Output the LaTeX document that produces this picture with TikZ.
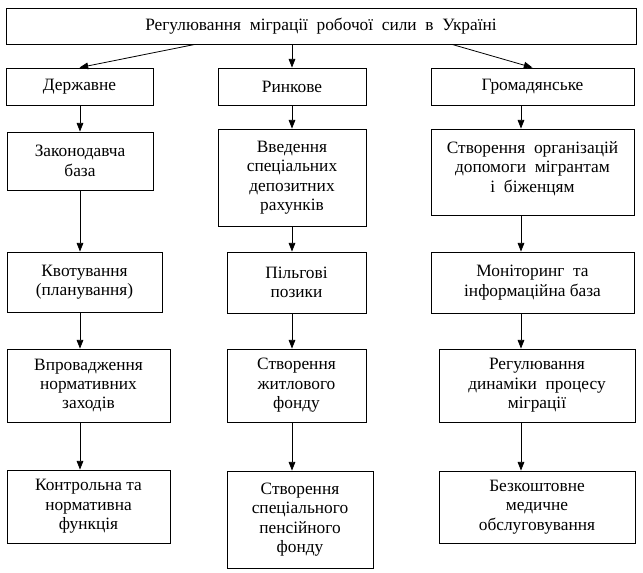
\documentclass[tikz,border=0pt]{standalone}
\usepackage{fontspec}
\setmainfont{Liberation Serif}
\usetikzlibrary{arrows.meta}

\begin{document}
\begin{tikzpicture}[x=0.75pt,y=-0.75pt,
  box/.style={draw, line width=0.6pt, align=center, inner sep=0pt, font=\fontsize{13pt}{14.6pt}\selectfont},
  arr/.style={line width=0.6pt, -{Triangle[length=6.5pt,width=5pt]}}]
\useasboundingbox (0,0) rectangle (643,573);
\node[box, minimum width=472.5pt, minimum height=27pt] (top) at (321,26) {Регулювання\ \ міграції\ \ робочої\ \ сили\ \ в\ \ Україні};
\node[box, minimum width=110.25pt, minimum height=27.75pt] (derzh) at (79.5,86.5) {Державне};
\node[box, minimum width=111pt, minimum height=27.75pt] (rynk) at (292,86.5) {Ринкове};
\node[box, minimum width=152.25pt, minimum height=27.75pt] (hrom) at (532.5,86.5) {Громадянське};
\node[box, minimum width=109.5pt, minimum height=43.5pt] (zak) at (80,161) {Законодавча\\база};
\node[box, minimum width=111pt, minimum height=72.75pt] (vved) at (292,177.5) {Введення\\спеціальних\\депозитних\\рахунків};
\node[box, minimum width=152.25pt, minimum height=64.5pt] (org) at (532.5,172) {Створення\ \ організацій\\допомоги\ \ мігрантам\\і\ \ біженцям\\[-7pt]};
\node[box, minimum width=116.25pt, minimum height=45pt] (kvot) at (84.5,282) {Квотування\\(планування)};
\node[box, minimum width=104.25pt, minimum height=45.75pt] (pilg) at (296.5,282.5) {Пільгові\\позики};
\node[box, minimum width=152.25pt, minimum height=45.75pt] (monit) at (532.5,282.5) {Моніторинг\ \ та\\інформаційна база};
\node[box, minimum width=122.25pt, minimum height=54.75pt] (vpr) at (88.5,385.5) {Впровадження\\нормативних\\заходів};
\node[box, minimum width=104.25pt, minimum height=54.75pt] (zhytl) at (296.5,385.5) {Створення\\житлового\\фонду};
\node[box, minimum width=147pt, minimum height=54.75pt] (dyn) at (537,385.5) {Регулювання\\динаміки\ \ процесу\\міграції};
\node[box, minimum width=122.25pt, minimum height=54.75pt] (kontr) at (88.5,506.5) {Контрольна та\\нормативна\\функція};
\node[box, minimum width=109.5pt, minimum height=72.75pt] (pens) at (300,519.5) {Створення\\спеціального\\пенсійного\\фонду};
\node[box, minimum width=147pt, minimum height=54pt] (med) at (537,507) {Безкоштовне\\медичне\\обслуговування};
\coordinate (col1) at (80,0);
\coordinate (col2) at (292,0);
\coordinate (col3) at (521,0);
\coordinate (lft) at (195,0);
\coordinate (rgt) at (452,0);
\draw[arr] (top.south -| lft) -- (derzh.north);
\draw[arr] (top.south -| rynk.north) -- (rynk.north);
\draw[arr] (top.south -| rgt) -- (hrom.north);
\draw[arr] (derzh.south -| col1) -- (zak.north -| col1);
\draw[arr] (zak.south -| col1) -- (kvot.north -| col1);
\draw[arr] (kvot.south -| col1) -- (vpr.north -| col1);
\draw[arr] (vpr.south -| col1) -- (kontr.north -| col1);
\draw[arr] (rynk.south -| col2) -- (vved.north -| col2);
\draw[arr] (vved.south -| col2) -- (pilg.north -| col2);
\draw[arr] (pilg.south -| col2) -- (zhytl.north -| col2);
\draw[arr] (zhytl.south -| col2) -- (pens.north -| col2);
\draw[arr] (hrom.south -| col3) -- (org.north -| col3);
\draw[arr] (org.south -| col3) -- (monit.north -| col3);
\draw[arr] (monit.south -| col3) -- (dyn.north -| col3);
\draw[arr] (dyn.south -| col3) -- (med.north -| col3);
\end{tikzpicture}
\end{document}
